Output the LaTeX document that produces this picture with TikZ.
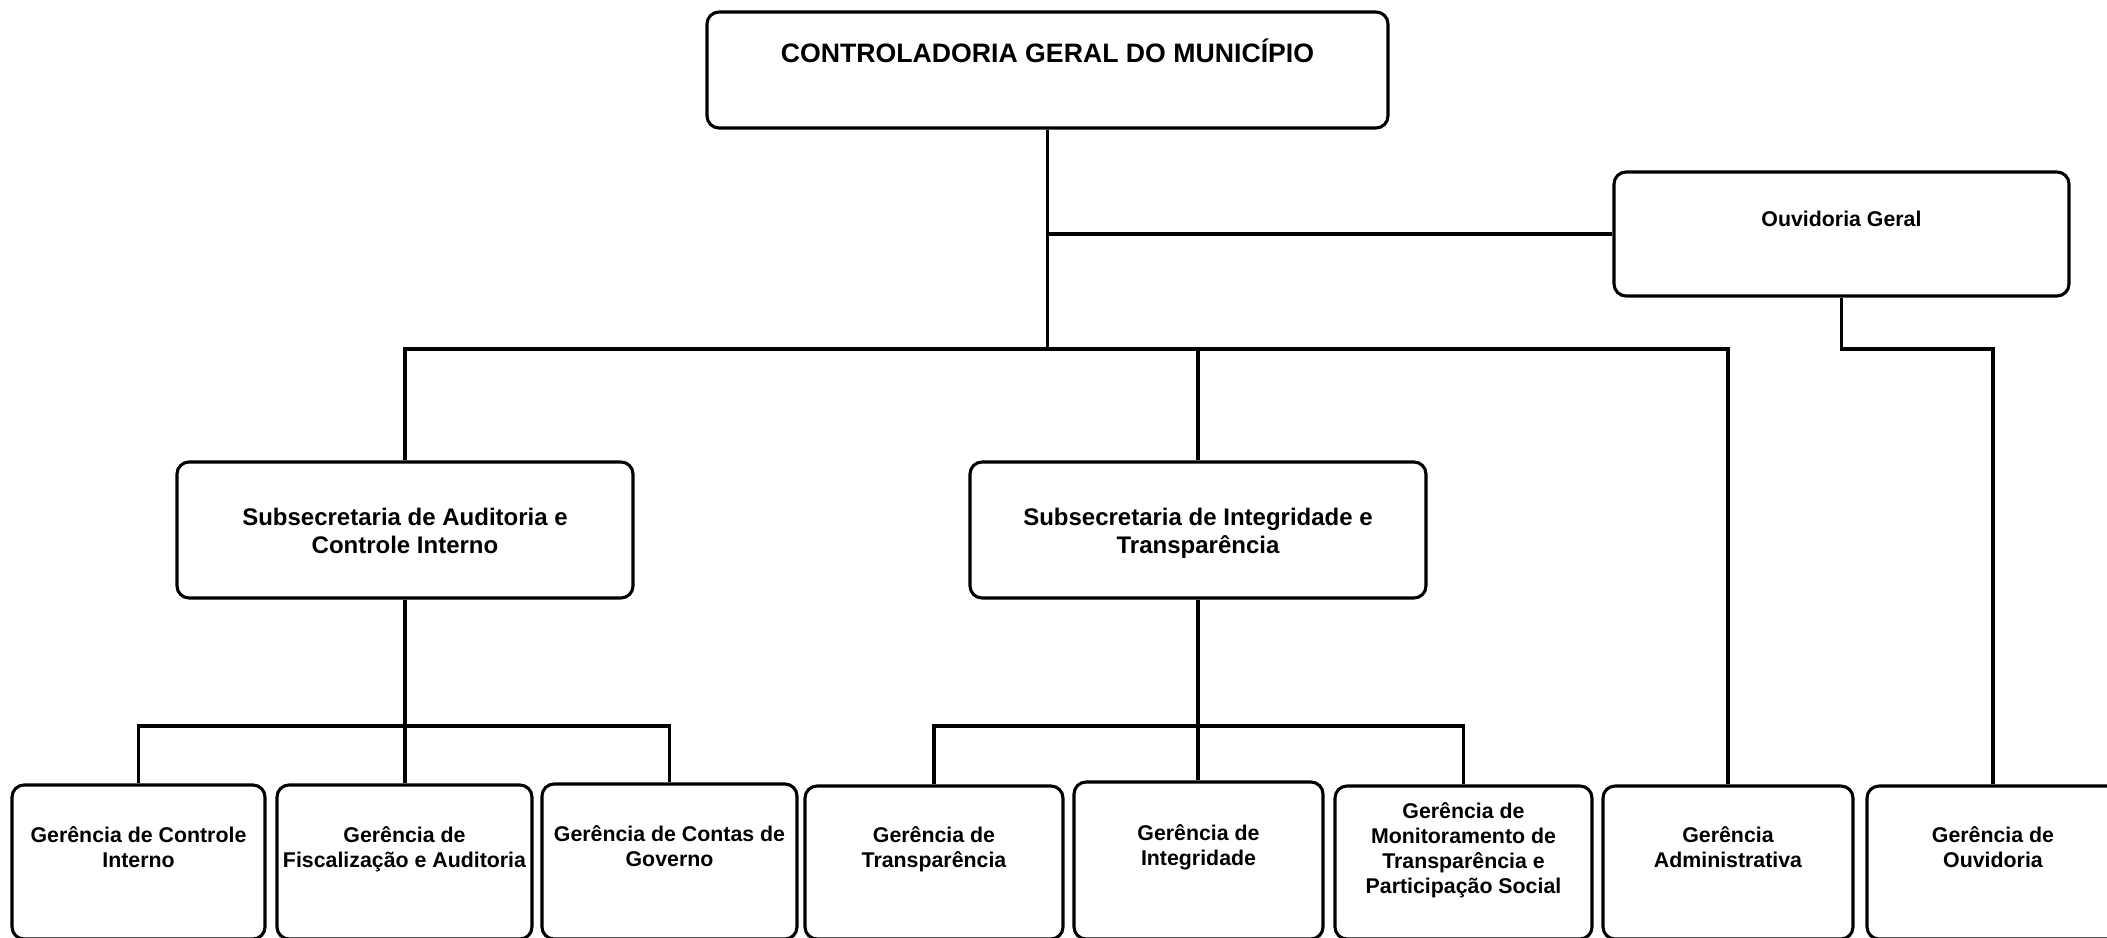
\documentclass[tikz,border=0pt]{standalone}
\usepackage{fontspec}
\setmainfont{Liberation Sans}
\begin{document}
\begin{tikzpicture}[x=0.75pt,y=-0.75pt,
  box/.style={draw, line width=2.3pt, rounded corners=9pt, inner sep=0pt, fill=none},
  conn/.style={line width=2.3pt},
  txt/.style={align=center, inner sep=0pt, anchor=base},
  fbig/.style={font=\bfseries\fontsize{20}{23}\selectfont},
  fsub/.style={font=\bfseries\fontsize{18}{21}\selectfont},
  fger/.style={font=\bfseries\fontsize{16}{18.75}\selectfont}]
\useasboundingbox (0,0) rectangle (2107,938);
% boxes
\node[box, minimum width=510.75pt, minimum height=87pt] (top) at (1047.5,70) {};
\node[box, minimum width=341.25pt, minimum height=93pt] (og) at (1841.5,234) {};
\node[box, minimum width=342pt, minimum height=102pt] (sa) at (405,530) {};
\node[box, minimum width=342pt, minimum height=102pt] (si) at (1198,530) {};
\node[box, minimum width=189.75pt, minimum height=115.5pt] (g1) at (138.5,862) {};
\node[box, minimum width=191.25pt, minimum height=115.5pt] (g2) at (404.5,862) {};
\node[box, minimum width=191.25pt, minimum height=116.25pt] (g3) at (669.5,861.5) {};
\node[box, minimum width=193.5pt, minimum height=114.75pt] (g4) at (934,862.5) {};
\node[box, minimum width=186.75pt, minimum height=117.75pt] (g5) at (1198.5,860.5) {};
\node[box, minimum width=192.75pt, minimum height=114.75pt] (g6) at (1463.5,862.5) {};
\node[box, minimum width=187.5pt, minimum height=114.75pt] (g7) at (1728,862.5) {};
\node[box, minimum width=189pt, minimum height=114.75pt] (g8) at (1993,862.5) {};
% texts (anchor=base is the baseline of the last line)
\node[txt, fbig] (ttop) at (1047.5,63) {CONTROLADORIA GERAL DO MUNICÍPIO};
\node[txt, fger] (tog) at (1841.5,227) {Ouvidoria Geral};
\node[txt, fsub] (tsa) at (405,553) {Subsecretaria de Auditoria e\\Controle Interno};
\node[txt, fsub] (tsi) at (1198,553) {Subsecretaria de Integridade e\\Transparência};
\node[txt, fger] (tg1) at (138.5,867) {Gerência de Controle\\Interno};
\node[txt, fger] (tg2) at (404.5,867) {Gerência de\\Fiscalização e Auditoria};
\node[txt, fger] (tg3) at (669.5,866) {Gerência de Contas de\\Governo};
\node[txt, fger] (tg4) at (934,867) {Gerência de\\Transparência};
\node[txt, fger] (tg5) at (1198.5,865) {Gerência de\\Integridade};
\node[txt, fger] (tg6) at (1463.5,893) {Gerência de\\Monitoramento de\\Transparência e\\Participação Social};
\node[txt, fger] (tg7) at (1728,867) {Gerência\\Administrativa};
\node[txt, fger] (tg8) at (1993,867) {Gerência de\\Ouvidoria};
% connector points
\coordinate (busL) at (405,349);
\coordinate (busR) at (1728,349);
\coordinate (brA) at (405,726);
\coordinate (brI) at (1198,726);
% connectors
\draw[conn] (top.south) -- (top.south |- busL);
\draw[conn] (top.south |- og.west) -- (og.west);
\draw[conn] (sa.north) |- (busR) -- (g7.north);
\draw[conn] (si.north |- busL) -- (si.north);
\draw[conn] (og.south) |- (g8.north |- busL) -- (g8.north);
\draw[conn] (sa.south) -- (sa.south |- g2.north);
\draw[conn] (g1.north) |- (g3.north |- brA) -- (g3.north);
\draw[conn] (si.south) -- (si.south |- g5.north);
\draw[conn] (g4.north) |- (g6.north |- brI) -- (g6.north);
\end{tikzpicture}
\end{document}
